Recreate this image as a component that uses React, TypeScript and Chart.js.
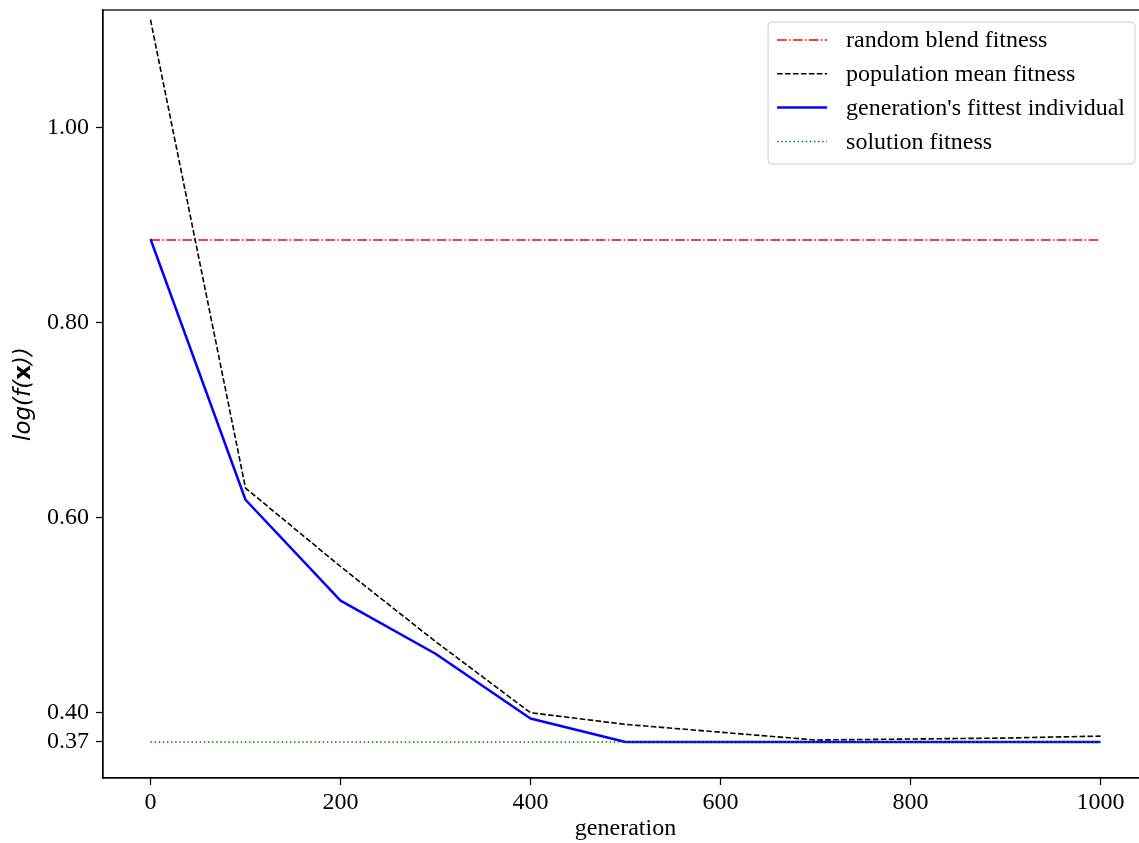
import React, { useEffect, useRef } from "react";
import { Chart, registerables } from "chart.js";

Chart.register(...registerables);

const generations = [0, 100, 200, 300, 400, 500, 600, 700, 800, 900, 1000];
const meanFitness = [1.111, 0.6305, 0.55, 0.473, 0.4, 0.388, 0.38, 0.372, 0.373, 0.374, 0.376];
const fittestFitness = [0.886, 0.6185, 0.515, 0.4605, 0.394, 0.37, 0.37, 0.37, 0.37, 0.37, 0.37];
const randomBlendX = [0, 1000];
const randomBlendY = [0.885, 0.885];
const solutionX = [0, 1000];
const solutionY = [0.37, 0.37];
const yTicks = [0.37, 0.4, 0.6, 0.8, 1.0];
const xTicks = [0, 200, 400, 600, 800, 1000];
const seriesLabels = [
  "random blend fitness",
  "population mean fitness",
  "generation's fittest individual",
  "solution fitness",
];
const yTitleParts = [
  { text: "log(f(", style: "italic", weight: "normal" },
  { text: "x", style: "normal", weight: "bold" },
  { text: "))", style: "italic", weight: "normal" },
];

const SERIF = "'Liberation Serif', 'Times New Roman', serif";
const SANS = "'DejaVu Sans', sans-serif";
const FS = 24;

const legendStyles = [
  { color: "#ff0000", width: 1.5, dash: [9.6, 2.4, 1.5, 2.4] },
  { color: "#000000", width: 1.6, dash: [5.55, 2.4] },
  { color: "#0000ff", width: 2.5, dash: [] as number[] },
  { color: "#008000", width: 1.5, dash: [1.5, 2.6] },
];

const framePlugin = {
  id: "frame",
  afterDatasetsDraw(chart: any) {
    const { ctx, chartArea } = chart;
    ctx.save();
    ctx.strokeStyle = "#000";
    ctx.lineWidth = 1.25;
    ctx.strokeRect(chartArea.left, chartArea.top, chartArea.right - chartArea.left, chartArea.bottom - chartArea.top);
    ctx.restore();
  },
};

const yTitlePlugin = {
  id: "yTitle",
  afterDraw(chart: any) {
    const { ctx, chartArea } = chart;
    ctx.save();
    const size = 23;
    const fontOf = (p: any) => `${p.style} ${p.weight} ${size}px ${SANS}`;
    let total = 0;
    const widths = yTitleParts.map((p) => {
      ctx.font = fontOf(p);
      const w = ctx.measureText(p.text).width;
      total += w;
      return w;
    });
    const cy = (chartArea.top + chartArea.bottom) / 2;
    ctx.translate(24, cy);
    ctx.rotate(-Math.PI / 2);
    ctx.fillStyle = "#000";
    ctx.textBaseline = "middle";
    ctx.textAlign = "left";
    let x = -total / 2;
    yTitleParts.forEach((p, i) => {
      ctx.font = fontOf(p);
      ctx.fillText(p.text, x, 0);
      x += widths[i];
    });
    ctx.restore();
  },
};

const legendPlugin = {
  id: "mplLegend",
  afterDraw(chart: any) {
    const { ctx, chartArea } = chart;
    ctx.save();
    ctx.font = `${FS}px ${SERIF}`;
    let maxW = 0;
    seriesLabels.forEach((t) => {
      maxW = Math.max(maxW, ctx.measureText(t).width);
    });
    const w = 9 + 50 + 19 + maxW + 10;
    const h = 142;
    const right = chartArea.right - 13;
    const x0 = right - w;
    const y0 = chartArea.top + 12;
    ctx.beginPath();
    (ctx as any).roundRect(x0, y0, w, h, 4);
    ctx.fillStyle = "rgba(255,255,255,0.8)";
    ctx.fill();
    ctx.strokeStyle = "#cccccc";
    ctx.lineWidth = 1;
    ctx.stroke();
    seriesLabels.forEach((t, i) => {
      const y = y0 + 18 + i * 33.8;
      const s = legendStyles[i];
      ctx.beginPath();
      ctx.setLineDash(s.dash);
      ctx.strokeStyle = s.color;
      ctx.lineWidth = s.width;
      ctx.lineCap = "butt";
      ctx.moveTo(x0 + 9, y);
      ctx.lineTo(x0 + 59, y);
      ctx.stroke();
      ctx.setLineDash([]);
      ctx.fillStyle = "#000";
      ctx.textBaseline = "middle";
      ctx.textAlign = "left";
      ctx.fillText(t, x0 + 78, y + 1);
    });
    ctx.restore();
  },
};

export default function App() {
  const ref = useRef<HTMLCanvasElement | null>(null);
  useEffect(() => {
    if (!ref.current) return;
    const toPts = (xs: number[], ys: number[]) => xs.map((x, i) => ({ x, y: ys[i] }));
    const chart = new Chart(ref.current, {
      type: "line",
      data: {
        datasets: [
          {
            label: seriesLabels[0],
            data: toPts(randomBlendX, randomBlendY),
            borderColor: "#ff0000",
            borderWidth: 1.5,
            borderDash: [9.6, 2.4, 1.5, 2.4],
            pointRadius: 0,
            order: 3,
          },
          {
            label: seriesLabels[1],
            data: toPts(generations, meanFitness),
            borderColor: "#000000",
            borderWidth: 1.6,
            borderDash: [5.55, 2.4],
            pointRadius: 0,
            order: 2,
          },
          {
            label: seriesLabels[2],
            data: toPts(generations, fittestFitness),
            borderColor: "#0000ff",
            borderWidth: 2.5,
            pointRadius: 0,
            order: 1,
          },
          {
            label: seriesLabels[3],
            data: toPts(solutionX, solutionY),
            borderColor: "#008000",
            borderWidth: 1.5,
            borderDash: [1.5, 2.6],
            pointRadius: 0,
            order: 0,
          },
        ],
      },
      options: {
        animation: false,
        responsive: false,
        devicePixelRatio: 1,
        layout: { padding: { top: 10, left: 0, right: 0, bottom: 0 } },
        plugins: {
          legend: { display: false },
          tooltip: { enabled: false },
        },
        elements: { line: { tension: 0, borderCapStyle: "butt", borderJoinStyle: "round" } },
        scales: {
          x: {
            type: "linear",
            min: -50,
            max: 1050,
            afterBuildTicks: (scale: any) => {
              scale.ticks = xTicks.map((v) => ({ value: v }));
            },
            afterFit: (scale: any) => {
              scale.height = 65;
              scale.paddingLeft = 0;
              scale.paddingRight = 0;
            },
            ticks: {
              font: { family: SERIF, size: FS },
              color: "#000",
              padding: 3,
              maxRotation: 0,
              autoSkip: false,
              callback: (v: any) => String(v),
            },
            grid: {
              display: true,
              drawOnChartArea: false,
              drawTicks: true,
              tickLength: 7,
              tickWidth: 1.25,
              tickColor: "#000",
            },
            border: { display: true, color: "#000", width: 1.25 },
            title: {
              display: true,
              text: "generation",
              font: { family: SERIF, size: FS },
              color: "#000",
              padding: { top: 0, bottom: 0 },
            },
          },
          y: {
            type: "linear",
            min: 0.333,
            max: 1.121,
            afterBuildTicks: (scale: any) => {
              scale.ticks = yTicks.map((v) => ({ value: v }));
            },
            afterFit: (scale: any) => {
              scale.width = 103;
              scale.paddingTop = 0;
              scale.paddingBottom = 0;
            },
            ticks: {
              font: { family: SERIF, size: FS },
              color: "#000",
              padding: 7,
              autoSkip: false,
              callback: (v: any) => Number(v).toFixed(2),
            },
            grid: {
              display: true,
              drawOnChartArea: false,
              drawTicks: true,
              tickLength: 7,
              tickWidth: 1.25,
              tickColor: "#000",
            },
            border: { display: true, color: "#000", width: 1.25 },
            title: { display: false },
          },
        },
      },
      plugins: [framePlugin, yTitlePlugin, legendPlugin],
    } as any);
    return () => chart.destroy();
  }, []);
  return (
    <div style={{ position: "absolute", left: 0, top: 0, width: 1139, height: 843, overflow: "hidden", background: "#fff" }}>
      <canvas ref={ref} width={1148} height={843} style={{ width: 1148, height: 843, display: "block" }} />
    </div>
  );
}
